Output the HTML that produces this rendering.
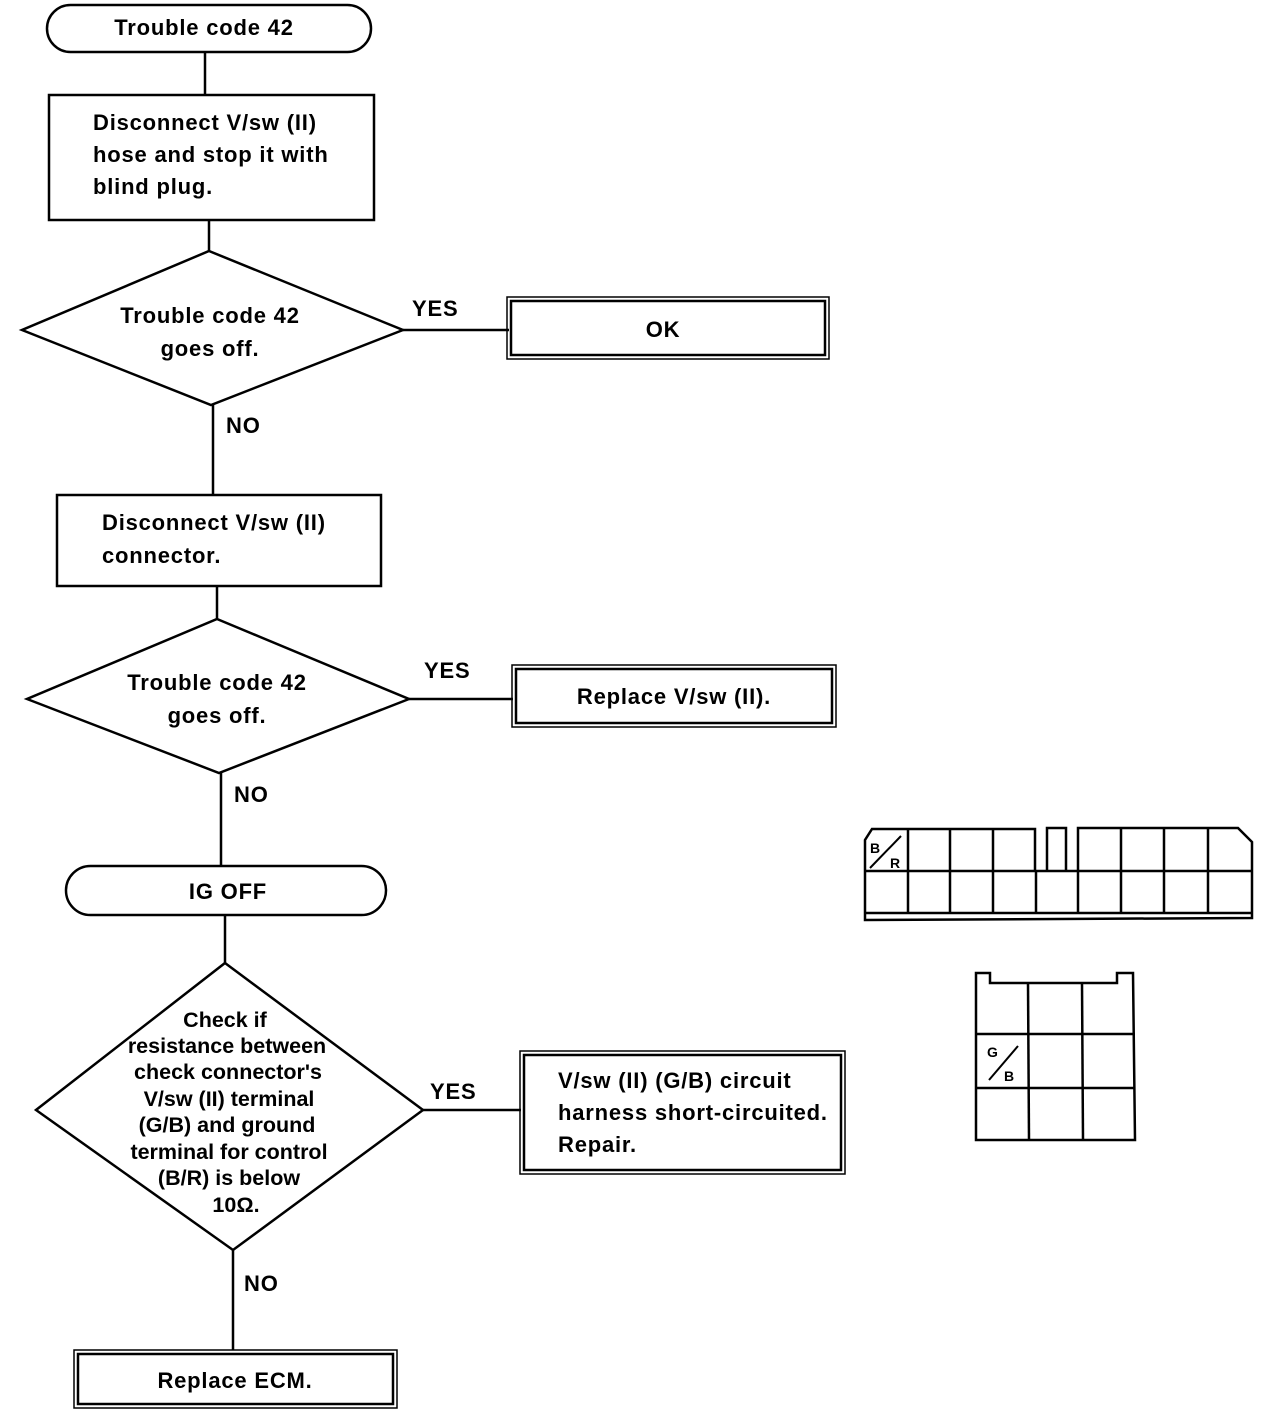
<!DOCTYPE html>
<html><head><meta charset="utf-8"><style>
html,body{margin:0;padding:0;background:#fff;}
svg{display:block;}
text{font-family:"Liberation Sans",sans-serif;font-size:22px;font-weight:bold;letter-spacing:0.8px;fill:#000;}
.b{font-weight:bold;font-size:14px;letter-spacing:0;}
.d text{letter-spacing:0;font-size:21.5px;}
</style></head><body>
<svg width="1264" height="1410" viewBox="0 0 1264 1410" xmlns="http://www.w3.org/2000/svg">
<g fill="none" stroke="#000" stroke-width="2.5">
<rect x="47" y="5" width="324" height="47" rx="23.5"/>
<line x1="205" y1="52" x2="205" y2="95"/>
<rect x="49" y="95" width="325" height="125"/>
<line x1="209" y1="220" x2="209" y2="251"/>
<polygon points="209,251 403,330 211,405 22,330"/>
<line x1="403" y1="330" x2="509" y2="330"/>
<rect x="507" y="297" width="322" height="62" stroke-width="1.5"/>
<rect x="511" y="301" width="314" height="54"/>
<line x1="213" y1="405" x2="213" y2="495"/>
<rect x="57" y="495" width="324" height="91"/>
<line x1="217" y1="586" x2="217" y2="619"/>
<polygon points="217,619 409,699 219,773 27,699"/>
<line x1="409" y1="699" x2="513" y2="699"/>
<rect x="512" y="665" width="324" height="62" stroke-width="1.5"/>
<rect x="516" y="669" width="316" height="54"/>
<line x1="221" y1="773" x2="221" y2="866"/>
<rect x="66" y="866" width="320" height="49" rx="24.5"/>
<line x1="225" y1="915" x2="225" y2="963"/>
<polygon points="225,963 423,1110 233,1250 36,1110"/>
<line x1="423" y1="1110" x2="521" y2="1110"/>
<rect x="520" y="1051" width="325" height="123" stroke-width="1.5"/>
<rect x="524" y="1055" width="317" height="115"/>
<line x1="233" y1="1250" x2="233" y2="1350"/>
<rect x="74" y="1350" width="323" height="58" stroke-width="1.5"/>
<rect x="78" y="1354" width="315" height="50"/>
</g>
<g fill="none" stroke="#000" stroke-width="2.5">
<path d="M865,913 L865,840 L872,829 L1035,829 L1035,871"/>
<path d="M1047,871 L1047,828 L1066,828 L1066,871"/>
<path d="M1078,871 L1078,828 L1238,828 L1252,842 L1252,913"/>
<line x1="865" y1="871" x2="1252" y2="871"/>
<line x1="865" y1="913" x2="1252" y2="913"/>
<path d="M865,913 L865,920 L1252,918 L1252,913"/>
<line x1="908" y1="829" x2="908" y2="913"/>
<line x1="950" y1="829" x2="950" y2="913"/>
<line x1="993" y1="829" x2="993" y2="913"/>
<line x1="1036" y1="871" x2="1036" y2="913"/>
<line x1="1078" y1="871" x2="1078" y2="913"/>
<line x1="1121" y1="829" x2="1121" y2="913"/>
<line x1="1164" y1="829" x2="1164" y2="913"/>
<line x1="1208" y1="829" x2="1208" y2="913"/>
<line x1="870" y1="868" x2="901" y2="836" stroke-width="2"/>
</g>
<text class="b" x="870" y="853">B</text>
<text class="b" x="890" y="868">R</text>
<g fill="none" stroke="#000" stroke-width="2.5">
<path d="M976,1140 L976,973 L990,973 L990,983 L1117,983 L1117,973 L1133,973 L1135,1140 Z"/>
<line x1="1028" y1="983" x2="1029" y2="1140"/>
<line x1="1082" y1="983" x2="1083" y2="1140"/>
<line x1="977" y1="1034" x2="1135" y2="1034"/>
<line x1="977" y1="1088" x2="1135" y2="1088"/>
<line x1="989" y1="1080" x2="1018" y2="1046" stroke-width="2"/>
</g>
<text class="b" x="987" y="1057">G</text>
<text class="b" x="1004" y="1081">B</text>
<text x="204" y="35" text-anchor="middle">Trouble code 42</text>
<text x="93" y="130">Disconnect V/sw (II)</text>
<text x="93" y="162">hose and stop it with</text>
<text x="93" y="194">blind plug.</text>
<text x="210" y="323" text-anchor="middle">Trouble code 42</text>
<text x="210" y="356" text-anchor="middle">goes off.</text>
<text x="412" y="316">YES</text>
<text x="663" y="337" text-anchor="middle">OK</text>
<text x="226" y="433">NO</text>
<text x="102" y="530">Disconnect V/sw (II)</text>
<text x="102" y="563">connector.</text>
<text x="217" y="690" text-anchor="middle">Trouble code 42</text>
<text x="217" y="723" text-anchor="middle">goes off.</text>
<text x="424" y="678">YES</text>
<text x="674" y="704" text-anchor="middle">Replace V/sw (II).</text>
<text x="234" y="802">NO</text>
<text x="228" y="899" text-anchor="middle">IG OFF</text>
<g class="d" text-anchor="middle">
<text x="225" y="1027">Check if</text>
<text x="227" y="1053">resistance between</text>
<text x="228" y="1079">check connector's</text>
<text x="229" y="1106">V/sw (II) terminal</text>
<text x="227" y="1132">(G/B) and ground</text>
<text x="229" y="1159">terminal for control</text>
<text x="229" y="1185">(B/R) is below</text>
<text x="236" y="1212">10Ω.</text>
</g>
<text x="430" y="1099">YES</text>
<text x="558" y="1088">V/sw (II) (G/B) circuit</text>
<text x="558" y="1120">harness short-circuited.</text>
<text x="558" y="1152">Repair.</text>
<text x="244" y="1291">NO</text>
<text x="235" y="1388" text-anchor="middle">Replace ECM.</text>
</svg>
</body></html>
